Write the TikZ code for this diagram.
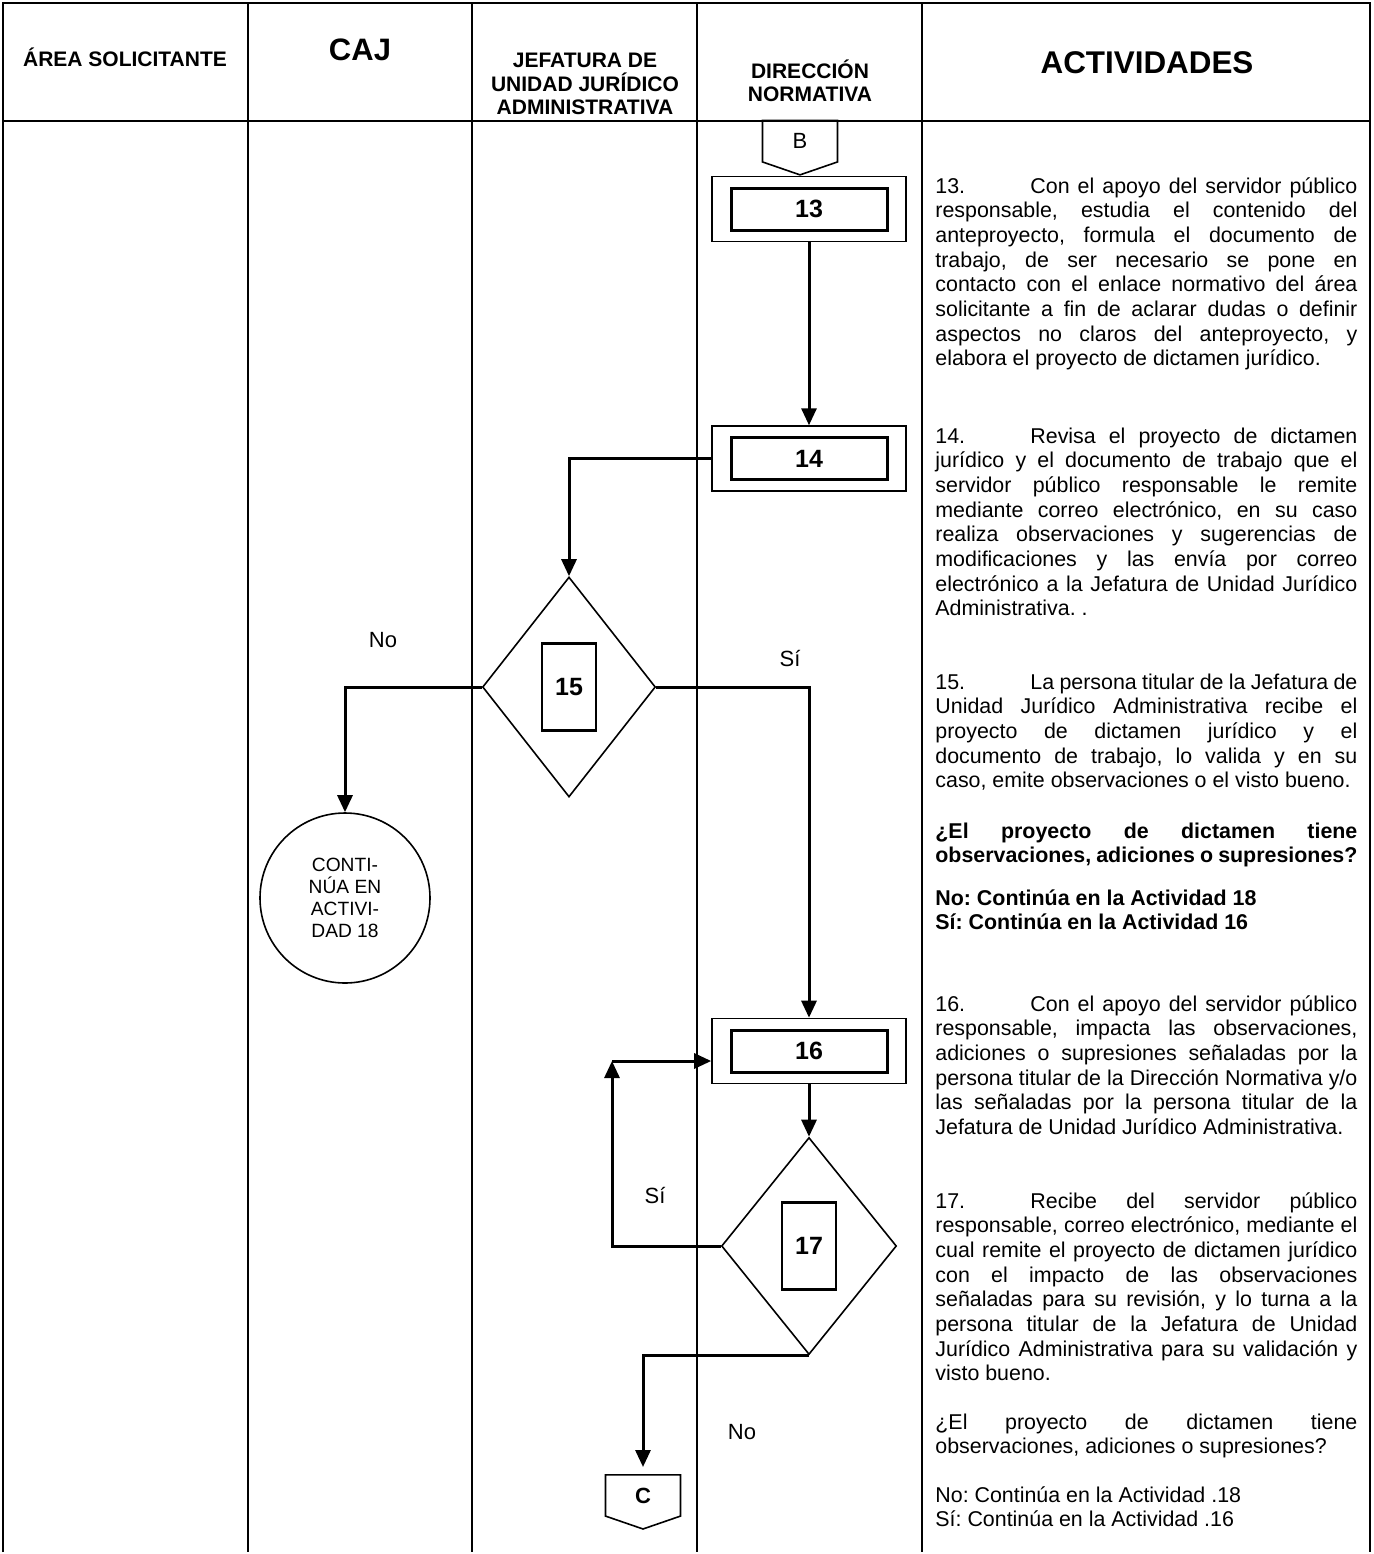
\documentclass[tikz,border=0pt]{standalone}
\usepackage{fontspec}
\setmainfont{Liberation Sans}
\usetikzlibrary{positioning}
\usetikzlibrary{shapes.geometric,shapes.symbols,arrows.meta}

\tikzset{
  lane/.style={line width=0.85pt},
  flow/.style={line width=1.5pt, -{Triangle[length=8.5pt,width=7.5pt]}},
  procbox/.style={draw, line width=0.8pt, minimum width=97pt, minimum height=32.5pt, inner sep=0pt},
  procnum/.style={draw, line width=1.5pt, minimum width=78pt, minimum height=21pt, inner sep=0pt, font=\fontsize{12.5}{14}\selectfont\bfseries},
  decision/.style={diamond, draw, line width=0.8pt, inner sep=0pt},
  decnum/.style={draw, line width=1.2pt, minimum width=27pt, minimum height=43.5pt, inner sep=0pt, font=\fontsize{12.5}{14}\selectfont\bfseries},
  offpage/.style={signal, signal to=south, signal pointer angle=142, draw, line width=0.8pt, minimum width=37.5pt, minimum height=22pt, inner sep=0pt, font=\fontsize{11}{12}\selectfont},
  endcircle/.style={circle, draw, line width=0.8pt, minimum size=85pt, inner sep=0pt, align=center, font=\fontsize{9.6}{11}\selectfont},
  lanehead/.style={align=center, inner sep=0pt, font=\fontsize{10.5}{11.75}\selectfont\bfseries},
  answer/.style={inner sep=0pt, font=\fontsize{11}{13}\selectfont},
  activity/.style={anchor=base west, inner sep=0pt, text width=211pt, align=justify, font=\fontsize{10.7}{12.35}\selectfont\frenchspacing},
}

\begin{document}
\begin{tikzpicture}[x=0.5pt,y=-0.5pt]
  \useasboundingbox (0,0) rectangle (1374,1554);

  % lanes
  \draw[lane] (3,1552) -- (3,3) -- (1370,3) -- (1370,1552);
  \draw[lane] (3,121) -- (1370,121);
  \foreach \x in {248,472,697,922}
    \draw[lane] (\x,3) -- (\x,1552);

  \node[lanehead] (hdarea) at (125,57) {ÁREA SOLICITANTE};
  \node[lanehead, font=\fontsize{15.5}{17}\selectfont\bfseries] (hdcaj) at (360,50) {CAJ};
  \node[lanehead] (hdjefatura) at (585,84) {JEFATURA DE\\UNIDAD JURÍDICO\\ADMINISTRATIVA};
  \node[lanehead] (hddireccion) at (810,81) {DIRECCIÓN\\NORMATIVA};
  \node[lanehead, font=\fontsize{15.7}{17}\selectfont\bfseries] (hdact) at (1147,63) {ACTIVIDADES};

  % flow
  \node[procbox] (b13) at (809,209) {};
  \node[procnum] (n13) at (b13) {13};
  \node[offpage, above=0pt of b13, xshift=-4.5pt] (offb) {B};
  \node[procbox, below=91.5pt of b13] (b14) {};
  \node[procnum] (n14) at (b14) {14};
  \node[decision, minimum width=86.5pt, minimum height=110pt] (d15) at (569,687) {};
  \node[decnum] (n15) at (d15) {15};
  \node[endcircle] (fin18) at (345,898) {CONTI-\\NÚA EN\\ACTIVI-\\DAD 18};
  \node[procbox] (b16) at (809,1051) {};
  \node[procnum] (n16) at (b16) {16};
  \node[decision, minimum width=87.5pt, minimum height=108.5pt] (d17) at (809,1246) {};
  \node[decnum] (n17) at (d17) {17};
  \node[offpage, anchor=north] (offc) at (643,1474) {\bfseries C};
  \coordinate (silazo) at (612,1061);

  \draw[flow] (b13) -- (b14);
  \draw[flow] (b14.west) -| (d15.north);
  \draw[flow] (d15.west) -| (fin18.north);
  \draw[flow] (d15.east) -| (b16.north);
  \draw[flow] (b16) -- (d17);
  \draw[flow] (d17.west) -| (silazo);
  \draw[flow] (silazo) -- ([yshift=-5pt]b16.west);
  \draw[flow, shorten >=3.5pt] (d17.south) -| (offc.north);

  \node[answer] (lbno15) at (383,640) {No};
  \node[answer] (lbsi15) at (790,658) {Sí};
  \node[answer] (lbsi17) at (655,1195) {Sí};
  \node[answer] (lbno17) at (742,1432) {No};

  % activities
  \node[activity] (act13) at (935,193) {\makebox[47.5pt][l]{13.}Con el apoyo del servidor público\linebreak
    responsable, estudia el contenido del\linebreak
    anteproyecto, formula el documento de\linebreak
    trabajo, de ser necesario se pone en\linebreak
    contacto con el enlace normativo del área\linebreak
    solicitante a fin de aclarar dudas o definir\linebreak
    aspectos no claros del anteproyecto, y\linebreak
    elabora el proyecto de dictamen jurídico.};
  \node[activity] (act14) at (935,443) {\makebox[47.5pt][l]{14.}Revisa el proyecto de dictamen\linebreak
    jurídico y el documento de trabajo que el\linebreak
    servidor público responsable le remite\linebreak
    mediante correo electrónico, en su caso\linebreak
    realiza observaciones y sugerencias de\linebreak
    modificaciones y las envía por correo\linebreak
    electrónico a la Jefatura de Unidad Jurídico\linebreak
    Administrativa. .};
  \node[activity] (act15) at (935,689) {\makebox[47.5pt][l]{15.}La persona titular de la Jefatura de\linebreak
    Unidad Jurídico Administrativa recibe el\linebreak
    proyecto de dictamen jurídico y el\linebreak
    documento de trabajo, lo valida y en su\linebreak
    caso, emite observaciones o el visto bueno.};
  \node[activity, font=\fontsize{10.7}{12.35}\selectfont\bfseries\frenchspacing] (ask15) at (935,838) {¿El proyecto de dictamen tiene\linebreak
    observaciones, adiciones o supresiones?};
  \node[activity, font=\fontsize{10.7}{12.35}\selectfont\bfseries\frenchspacing] (res15) at (935,905) {No: Continúa en la Actividad 18\\
    Sí: Continúa en la Actividad 16};
  \node[activity] (act16) at (935,1011) {\makebox[47.5pt][l]{16.}Con el apoyo del servidor público\linebreak
    responsable, impacta las observaciones,\linebreak
    adiciones o supresiones señaladas por la\linebreak
    persona titular de la Dirección Normativa y/o\linebreak
    las señaladas por la persona titular de la\linebreak
    Jefatura de Unidad Jurídico Administrativa.};
  \node[activity] (act17) at (935,1208) {\makebox[47.5pt][l]{17.}Recibe del servidor público\linebreak
    responsable, correo electrónico, mediante el\linebreak
    cual remite el proyecto de dictamen jurídico\linebreak
    con el impacto de las observaciones\linebreak
    señaladas para su revisión, y lo turna a la\linebreak
    persona titular de la Jefatura de Unidad\linebreak
    Jurídico Administrativa para su validación y\linebreak
    visto bueno.};
  \node[activity] (ask17) at (935,1429) {¿El proyecto de dictamen tiene\linebreak
    observaciones, adiciones o supresiones?};
  \node[activity] (res17) at (935,1502) {No: Continúa en la Actividad .18\\
    Sí: Continúa en la Actividad .16};
\end{tikzpicture}
\end{document}
